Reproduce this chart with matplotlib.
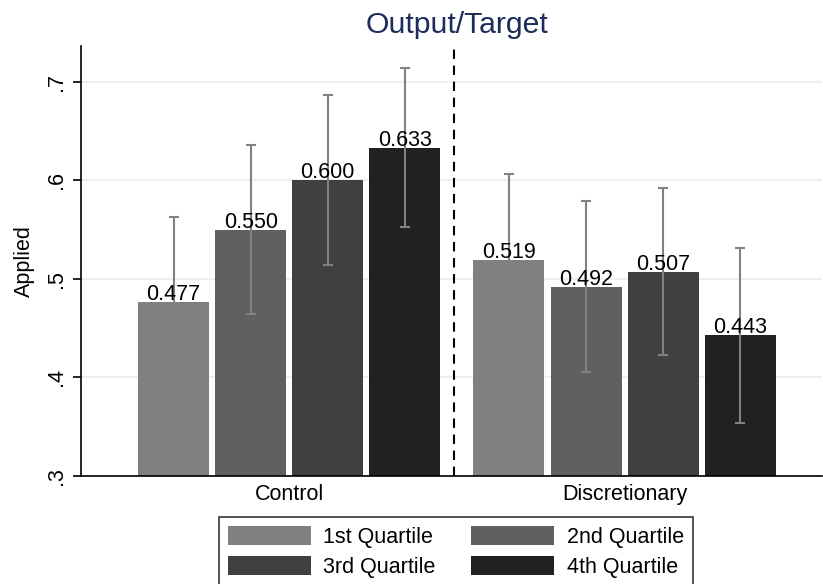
import numpy as np
import matplotlib
matplotlib.use("Agg")
import matplotlib.pyplot as plt
from matplotlib.patches import Patch

plt.rcParams['font.family'] = ['Liberation Sans', 'DejaVu Sans']

# Data: share applied by treatment group and output/target quartile
groups = ["Control", "Discretionary"]
quartiles = ["1st Quartile", "2nd Quartile", "3rd Quartile", "4th Quartile"]
means = {
    "Control":       [0.477, 0.550, 0.600, 0.633],
    "Discretionary": [0.519, 0.492, 0.507, 0.443],
}
ci_upper = {
    "Control":       [0.563, 0.636, 0.687, 0.714],
    "Discretionary": [0.607, 0.579, 0.592, 0.531],
}
ci_lower = {
    "Control":       [0.391, 0.464, 0.514, 0.553],
    "Discretionary": [0.431, 0.406, 0.423, 0.354],
}
yticks = [0.3, 0.4, 0.5, 0.6, 0.7]
ytick_labels = [".3", ".4", ".5", ".6", ".7"]

colors = ["#808080", "#606060", "#404040", "#212121"]
err_color = "#818181"
grid_color = "#e6eff1"
title_color = "#1c2d5a"

fig = plt.figure(figsize=(8.23, 5.84), dpi=100)
ax = fig.add_axes([81 / 823, 1 - 476 / 584, (822 - 81) / 823, (476 - 46) / 584])

group_centers = [0.0, 4.35]
bar_w = 0.92
fs = 15.5

for gi, g in enumerate(groups):
    for qi in range(len(quartiles)):
        x = group_centers[gi] + (qi - 1.5)
        m = means[g][qi]
        ax.bar(x, m - 0.3, bottom=0.3, width=bar_w, color=colors[qi],
               edgecolor="none", zorder=2)
        lo = m - ci_lower[g][qi]
        hi = ci_upper[g][qi] - m
        ax.errorbar(x, m, yerr=[[lo], [hi]], fmt="none", ecolor=err_color,
                    elinewidth=1.5, capsize=3.8, capthick=1.5, zorder=3)
        ax.annotate(f"{m:.3f}", (x, m), xytext=(0, 1.5), textcoords="offset points",
                    ha="center", va="baseline", fontsize=fs, color="black", zorder=4)

# separator between treatment groups
ax.axvline(2.14, color="black", lw=1.5, ls=(0, (4.5, 3.2)), zorder=1)

ax.set_xlim(-2.70, 6.91)
ax.set_ylim(0.3, 0.7365)
ax.set_yticks(yticks)
ax.set_yticklabels(ytick_labels, rotation=90, va="center", fontsize=fs)
ax.set_xticks(group_centers)
ax.set_xticklabels(groups, fontsize=fs)
ax.tick_params(axis="x", length=0, pad=6)
ax.tick_params(axis="y", length=6, width=1.2, pad=4)
ax.yaxis.grid(True, color=grid_color, lw=1.2, zorder=0)
ax.set_axisbelow(True)
for s in ["top", "right"]:
    ax.spines[s].set_visible(False)
for s in ["left", "bottom"]:
    ax.spines[s].set_linewidth(1.2)
ax.set_ylabel("Applied", fontsize=fs, labelpad=8)

fig.text(457 / 823, 1 - 25 / 584, "Output/Target", ha="center", va="center",
         fontsize=21.7, color=title_color)

# legend filled row by row: 1st | 2nd on top, 3rd | 4th below
order = [0, 2, 1, 3]
handles = [Patch(facecolor=colors[i], edgecolor="none") for i in order]
labels = [quartiles[i] for i in order]
leg = fig.legend(handles, labels, loc="upper center", ncol=2,
                 bbox_to_anchor=(456 / 823, 1 - 517 / 584), borderaxespad=0,
                 fontsize=fs, frameon=True, fancybox=False, edgecolor="black",
                 handlelength=3.85, handleheight=1.0, handletextpad=0.6,
                 columnspacing=1.65, labelspacing=0.4, borderpad=0.4)
leg.get_frame().set_linewidth(1.2)

fig.savefig("out.png", dpi=100)
